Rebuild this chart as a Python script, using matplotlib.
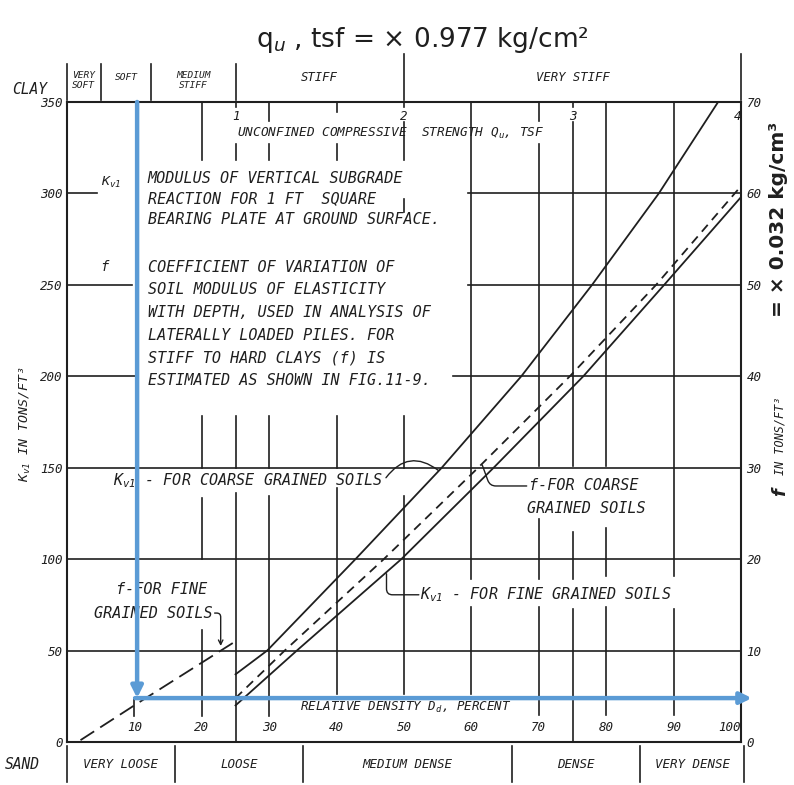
import matplotlib
matplotlib.use("Agg")
import matplotlib.pyplot as plt

MONO = 'DejaVu Sans Mono'
plt.rcParams['font.family'] = [MONO, 'DejaVu Sans']
plt.rcParams['mathtext.fontset'] = 'custom'
plt.rcParams['mathtext.rm'] = 'DejaVu Sans Mono:italic'
plt.rcParams['mathtext.it'] = 'DejaVu Sans Mono:italic'
plt.rcParams['mathtext.default'] = 'it'

# ---------------- data ----------------
dr_ticks = [10, 20, 30, 40, 50, 60, 70, 80, 90, 100]
kv_ticks = [0, 50, 100, 150, 200, 250, 300, 350]
f_ticks = [0, 10, 20, 30, 40, 50, 60, 70]
qu_ticks = [1, 2, 3, 4]

clay_labels = ["VERY\nSOFT", "SOFT", "MEDIUM\nSTIFF", "STIFF", "VERY STIFF"]
clay_bounds_qu = [0, 0.2, 0.5, 1, 2, 4]
sand_labels = ["VERY LOOSE", "LOOSE", "MEDIUM DENSE", "DENSE", "VERY DENSE"]
sand_bounds_dr = [0, 16, 35, 66, 85, 100.5]

kv_coarse_dr = [25, 29.7, 42.8, 55.6, 67.4, 77.9, 87.8, 96.6]
kv_coarse_k = [37, 50, 100, 150, 200, 250, 300, 350]
f_coarse_dr = [25, 32.3, 47.0, 61.0, 74.6, 87.4, 100]
f_coarse_k = [24, 50, 100, 150, 200, 250, 304]
kv_fine_dr = [25, 34.1, 49.6, 63.3, 76.6, 88.6, 100]
kv_fine_k = [20, 50, 100, 150, 200, 250, 298]
f_fine_dr = [2, 10.4, 25.4]
f_fine_k = [1, 21, 56]

read_dr = 10.4
read_k = 24

QU_PER_DR = 4 / 100.0
F_PER_K = 70 / 350.0

block1 = ["MODULUS OF VERTICAL SUBGRADE",
          "REACTION FOR 1 FT  SQUARE",
          "BEARING PLATE AT GROUND SURFACE."]
block2 = ["COEFFICIENT OF VARIATION OF",
          "SOIL MODULUS OF ELASTICITY",
          "WITH DEPTH, USED IN ANALYSIS OF",
          "LATERALLY LOADED PILES. FOR",
          "STIFF TO HARD CLAYS (f) IS",
          "ESTIMATED AS SHOWN IN FIG.11-9."]
block1_k = [308.0, 297.0, 286.0]
block2_k = [259.5, 247.5, 235.0, 222.5, 210.0, 197.5]

# grid segments (layout: gaps where lettering sits)
vgrid = {
    10: [(14, 24)],
    20: [(318, 350), (150, 178), (100, 133.5), (14, 61.5)],
    25: [(347, 350), (318, 327), (150, 178), (0, 136)],
    30: [(339.5, 350), (318, 327), (150, 178), (14, 134.6)],
    40: [(344.5, 350), (318, 327), (150, 178), (26, 139)],
    50: [(347.5, 350), (318, 339), (290, 297), (150, 178), (26, 134.6)],
    60: [(89, 350), (26, 74)],
    70: [(339.5, 350), (151, 327), (89, 122), (15, 74)],
    75: [(347.5, 350), (151, 339), (89, 115), (0, 72.5)],
    80: [(151, 350), (90.6, 117), (15, 74)],
    90: [(90.6, 350), (15, 72.5)],
}
hgrid = {
    300: [(0, 4.4), (59.5, 100)],
    250: [(0, 9.6), (59.5, 100)],
    200: [(0, 10.4), (57.3, 100)],
    150: [(0, 100)],
    100: [(0, 100)],
    50: [(0, 100)],
}

INK = '#1f1f1f'
BLUE = '#5b9bd5'
TXT = dict(color=INK, fontstyle='italic', family=MONO)
LBL = 10.9

fig = plt.figure(figsize=(7.94, 7.85), dpi=100)
ax = fig.add_axes([0.0844, 0.0548, 0.8489, 0.8153])
ax.set_xlim(0, 100)
ax.set_ylim(0, 350)
for s in ax.spines.values():
    s.set_linewidth(1.5)
    s.set_color(INK)

# grid
for x, segs in vgrid.items():
    for k0, k1 in segs:
        ax.plot([x, x], [k0, k1], color=INK, lw=1.2, zorder=1)
for k, segs in hgrid.items():
    for d0, d1 in segs:
        ax.plot([d0, d1], [k, k], color=INK, lw=1.2, zorder=1)

# curves
ax.plot(kv_coarse_dr, kv_coarse_k, color=INK, lw=1.3, zorder=3)
ax.plot(f_coarse_dr, f_coarse_k, color=INK, lw=1.3, ls=(0, (5, 3.5)), zorder=3)
ax.plot(kv_fine_dr, kv_fine_k, color=INK, lw=1.3, zorder=3)
ax.plot(f_fine_dr, f_fine_k, color=INK, lw=1.3, ls=(0, (9, 4)), zorder=3)

# ticks
ax.set_xticks(dr_ticks)
ax.set_xticklabels([str(v) for v in dr_ticks])
ax.tick_params(axis='x', length=0, pad=-15, labelsize=9, colors=INK)
ax.set_yticks(kv_ticks)
ax.set_yticklabels([str(v) for v in kv_ticks])
ax.tick_params(axis='y', length=0, pad=3, labelsize=9, colors=INK)
for lab in ax.get_xticklabels() + ax.get_yticklabels():
    lab.set_fontstyle('italic')
ax.get_xticklabels()[-1].set_ha('right')

secy = ax.secondary_yaxis('right', functions=(lambda k: k * F_PER_K, lambda f: f / F_PER_K))
secy.set_yticks(f_ticks)
secy.set_yticklabels([str(v) for v in f_ticks])
secy.tick_params(length=0, pad=4, labelsize=9, colors=INK)
secy.spines['right'].set_visible(False)
for lab in secy.get_yticklabels():
    lab.set_fontstyle('italic')

secx = ax.secondary_xaxis('top', functions=(lambda d: d * QU_PER_DR, lambda q: q / QU_PER_DR))
secx.set_xticks(qu_ticks)
secx.set_xticklabels([str(v) for v in qu_ticks])
secx.tick_params(length=0, pad=-15, labelsize=9, colors=INK)
secx.spines['top'].set_visible(False)
for lab in secx.get_xticklabels():
    lab.set_fontstyle('italic')
secx.get_xticklabels()[-1].set_ha('right')

# clay consistency row (top)
for q in clay_bounds_qu:
    top = 376 if q >= 2 else 371
    ax.plot([q / QU_PER_DR] * 2, [351, top], color=INK, lw=1.2, clip_on=False)
ax.text(-5.6, 357, "CLAY", ha='center', va='center', fontsize=10.5, **TXT)
for i, lab in enumerate(clay_labels):
    cx = (clay_bounds_qu[i] + clay_bounds_qu[i + 1]) / 2 / QU_PER_DR
    fs = 6.8 if '\n' in lab or len(lab) < 5 else 8.8
    ky = 362 if '\n' in lab else 363.5
    ax.text(cx, ky, lab, ha='center', va='center', fontsize=fs, linespacing=1.15, **TXT)

# sand density row (bottom)
for d in sand_bounds_dr:
    ax.plot([d, d], [-2, -22], color=INK, lw=1.2, clip_on=False)
ax.text(-6.6, -12.5, "SAND", ha='center', va='center', fontsize=10.5, **TXT)
for i, lab in enumerate(sand_labels):
    cx = (sand_bounds_dr[i] + sand_bounds_dr[i + 1]) / 2
    ax.text(cx, -12.5, lab, ha='center', va='center', fontsize=9, **TXT)

# axis titles
fig.text(0.532, 0.949, "q$_u$ , tsf = × 0.977 kg/cm²", ha='center', va='center',
         fontsize=19, color=INK, family='DejaVu Sans', math_fontfamily='dejavusans')
fig.text(0.032, 0.46, r"K$_{v1}$ IN TONS/FT³", rotation=90, ha='center', va='center',
         fontsize=9.5, **TXT)
fig.text(0.982, 0.445, "IN TONS/FT³", rotation=90, ha='center', va='center', fontsize=8.5, **TXT)
fig.text(0.982, 0.373, "f", rotation=90, ha='center', va='center', fontsize=13,
         fontweight='bold', color=INK, fontstyle='italic', family='DejaVu Sans')
fig.text(0.980, 0.72, "= × 0.032 kg/cm³", rotation=90, ha='center', va='center',
         fontsize=14.5, fontweight='bold', color=INK, family='DejaVu Sans')

ax.text(48.0, 333, r"UNCONFINED COMPRESSIVE  STRENGTH Q$_u$, TSF", ha='center', va='center',
        fontsize=9.2, **TXT)
ax.text(50.3, 19, r"RELATIVE DENSITY D$_d$, PERCENT", ha='center', va='center', fontsize=9, **TXT)

# explanatory text block
for s, k in zip(block1, block1_k):
    ax.text(12, k, s, ha='left', va='center', fontsize=LBL, **TXT)
for s, k in zip(block2, block2_k):
    ax.text(12, k, s, ha='left', va='center', fontsize=LBL, **TXT)
ax.text(6.6, 306, r"K$_{v1}$", ha='center', va='center', fontsize=9.5, **TXT)
ax.text(5.6, 260, "f", ha='center', va='center', fontsize=10, **TXT)

# curve labels
t_kvc = ax.text(6.8, 143, r"K$_{v1}$ - FOR COARSE GRAINED SOILS", ha='left', va='center',
                fontsize=LBL, **TXT)
ax.text(68.5, 140, "f-FOR COARSE", ha='left', va='center', fontsize=LBL, **TXT)
ax.text(68.3, 127.5, "GRAINED SOILS", ha='left', va='center', fontsize=LBL, **TXT)
ax.text(52.4, 80.5, r"K$_{v1}$ - FOR FINE GRAINED SOILS", ha='left', va='center',
        fontsize=LBL, **TXT)
ax.text(7.2, 83.5, "f-FOR FINE", ha='left', va='center', fontsize=LBL, **TXT)
t_ffg = ax.text(4.0, 70.3, "GRAINED SOILS", ha='left', va='center', fontsize=LBL, **TXT)

fig.canvas.draw()
inv = ax.transData.inverted()
x_end_kvc = inv.transform(t_kvc.get_window_extent().get_points())[1][0]
x_end_ffg = inv.transform(t_ffg.get_window_extent().get_points())[1][0]

# leaders
ax.annotate("", xy=(55.1, 148.5), xytext=(x_end_kvc + 0.5, 144.5),
            arrowprops=dict(arrowstyle='-', color=INK, lw=1.0, shrinkA=0, shrinkB=0,
                            connectionstyle='arc3,rad=-0.5'))
ax.annotate("", xy=(61.6, 151.5), xytext=(68.2, 140),
            arrowprops=dict(arrowstyle='-', color=INK, lw=1.0, shrinkA=0, shrinkB=0,
                            connectionstyle='angle,angleA=180,angleB=-70,rad=6'))
ax.annotate("", xy=(47.4, 92), xytext=(52.2, 80.5),
            arrowprops=dict(arrowstyle='-', color=INK, lw=1.0, shrinkA=0, shrinkB=0,
                            connectionstyle='angle,angleA=180,angleB=90,rad=6'))
ax.annotate("", xy=(x_end_ffg + 1.2, 52.5), xytext=(x_end_ffg + 0.3, 70.5),
            arrowprops=dict(arrowstyle='->', color=INK, lw=1.0, shrinkA=0, shrinkB=0,
                            mutation_scale=8,
                            connectionstyle='angle,angleA=0,angleB=90,rad=4'))

# blue reading arrows
ax.annotate("", xy=(read_dr, read_k), xytext=(read_dr, 350),
            arrowprops=dict(arrowstyle='-|>', color=BLUE, lw=3.2, mutation_scale=17,
                            shrinkA=0, shrinkB=0), annotation_clip=False, zorder=5)
ax.annotate("", xy=(101.6, read_k), xytext=(read_dr - 0.3, read_k),
            arrowprops=dict(arrowstyle='-|>', color=BLUE, lw=3.2, mutation_scale=17,
                            shrinkA=0, shrinkB=0), annotation_clip=False, zorder=5)

fig.savefig("out.png", dpi=100)
